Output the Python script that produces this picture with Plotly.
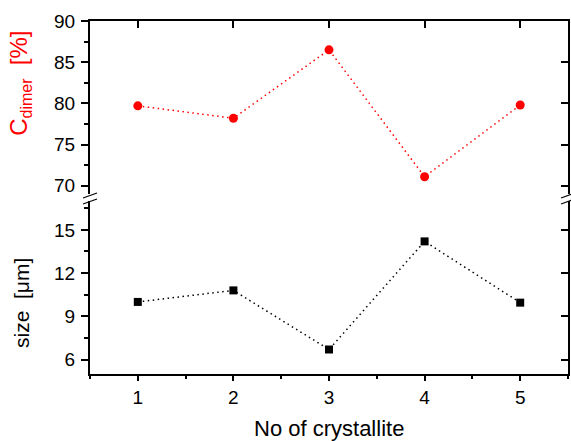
import plotly.graph_objects as go

crystallite = [1, 2, 3, 4, 5]
c_dimer = [79.7, 78.2, 86.5, 71.1, 79.8]
size_um = [10.0, 10.8, 6.7, 14.2, 9.95]

x_ticks = [1, 2, 3, 4, 5]
upper_ticks = [70, 75, 80, 85, 90]
lower_ticks = [6, 9, 12, 15]

FONT = "Arial, Liberation Sans, sans-serif"

fig = go.Figure()
fig.add_trace(go.Scatter(
    x=crystallite, y=c_dimer, xaxis="x", yaxis="y", mode="lines+markers",
    line=dict(color="#ff0000", width=1.5, dash="1.5px,3.5px"),
    marker=dict(symbol="circle", size=9, color="#ff0000"), showlegend=False))
fig.add_trace(go.Scatter(
    x=crystallite, y=size_um, xaxis="x", yaxis="y2", mode="lines+markers",
    line=dict(color="#000000", width=1.5, dash="1.5px,3.5px"),
    marker=dict(symbol="square", size=8, color="#000000"), showlegend=False))
# empty carriers so the mirrored frame axes (top / right) get drawn
for xa, ya in (("x2", "y"), ("x", "y3"), ("x", "y4")):
    fig.add_trace(go.Scatter(x=[], y=[], xaxis=xa, yaxis=ya, mode="markers",
                             showlegend=False, hoverinfo="skip"))

axis_common = dict(showline=True, linecolor="black", linewidth=2, showgrid=False,
                   zeroline=False, tickcolor="black", tickwidth=1.5, automargin=False)

fig.update_layout(
    width=571, height=441,
    margin=dict(l=90, r=3, t=21, b=67),
    paper_bgcolor="white", plot_bgcolor="white",
    font=dict(family=FONT, color="black"),
    xaxis=dict(**axis_common, domain=[0, 1], anchor="y2", range=[0.5, 5.5],
               tickvals=x_ticks, ticks="outside", ticklen=5,
               tickfont=dict(size=19),
               minor=dict(dtick=0.5, tick0=0.5, ticks="outside", ticklen=3,
                          tickcolor="black", tickwidth=1.5)),
    yaxis=dict(**axis_common, domain=[0.5099, 1], anchor="x", range=[69, 90],
               tickvals=upper_ticks, ticks="outside", ticklen=7,
               tickfont=dict(size=19), ticklabelstandoff=2,
               minor=dict(dtick=2.5, tick0=70, ticks="outside", ticklen=4,
                          tickcolor="black", tickwidth=1.5)),
    yaxis2=dict(**axis_common, domain=[0, 0.490], anchor="x", range=[5, 17],
                tickvals=lower_ticks, ticks="outside", ticklen=7,
                tickfont=dict(size=19), ticklabelstandoff=2,
                minor=dict(dtick=1.5, tick0=4.5, ticks="outside", ticklen=4,
                           tickcolor="black", tickwidth=1.5)),
    xaxis2=dict(**axis_common, overlaying="x", anchor="y", side="top", range=[0.5, 5.5],
                tickvals=x_ticks, ticks="inside", ticklen=7, showticklabels=False),
    yaxis3=dict(**axis_common, overlaying="y", anchor="x", side="right", range=[69, 90],
                tickvals=upper_ticks, ticks="inside", ticklen=7, showticklabels=False),
    yaxis4=dict(**axis_common, overlaying="y2", anchor="x", side="right", range=[5, 17],
                tickvals=lower_ticks, ticks="inside", ticklen=7, showticklabels=False),
)

annotations = [
    dict(text="No of crystallite", xref="paper", yref="paper", x=0.5, y=-0.153,
         xanchor="center", yanchor="middle", showarrow=False,
         font=dict(size=22, color="black")),
    dict(text="C<sub><span style='font-size:16px'>dimer</span></sub>  [%]",
         xref="paper", yref="paper", x=-0.1464, y=0.822,
         xanchor="center", yanchor="middle", textangle=-90, showarrow=False,
         font=dict(size=24, color="#ff0000")),
    dict(text="size  [\u03bcm]", xref="paper", yref="paper", x=-0.1433, y=0.1997,
         xanchor="center", yanchor="middle", textangle=-90, showarrow=False,
         font=dict(size=21, color="black")),
]

# axis-break slashes
shapes = []
for xa in (0, 1):
    for ya in (0.5057, 0.4887):
        shapes.append(dict(type="line", xref="paper", yref="paper",
                           xsizemode="pixel", ysizemode="pixel",
                           xanchor=xa, yanchor=ya, x0=-7, x1=7, y0=-2.5, y1=2.5,
                           line=dict(color="black", width=1.2)))
fig.update_layout(shapes=shapes, annotations=annotations)

fig.write_html("out.html", config={"displayModeBar": False},
               post_script="document.body.style.margin='0';"
                           "document.body.style.padding='0';"
                           "document.body.style.overflow='hidden';")
